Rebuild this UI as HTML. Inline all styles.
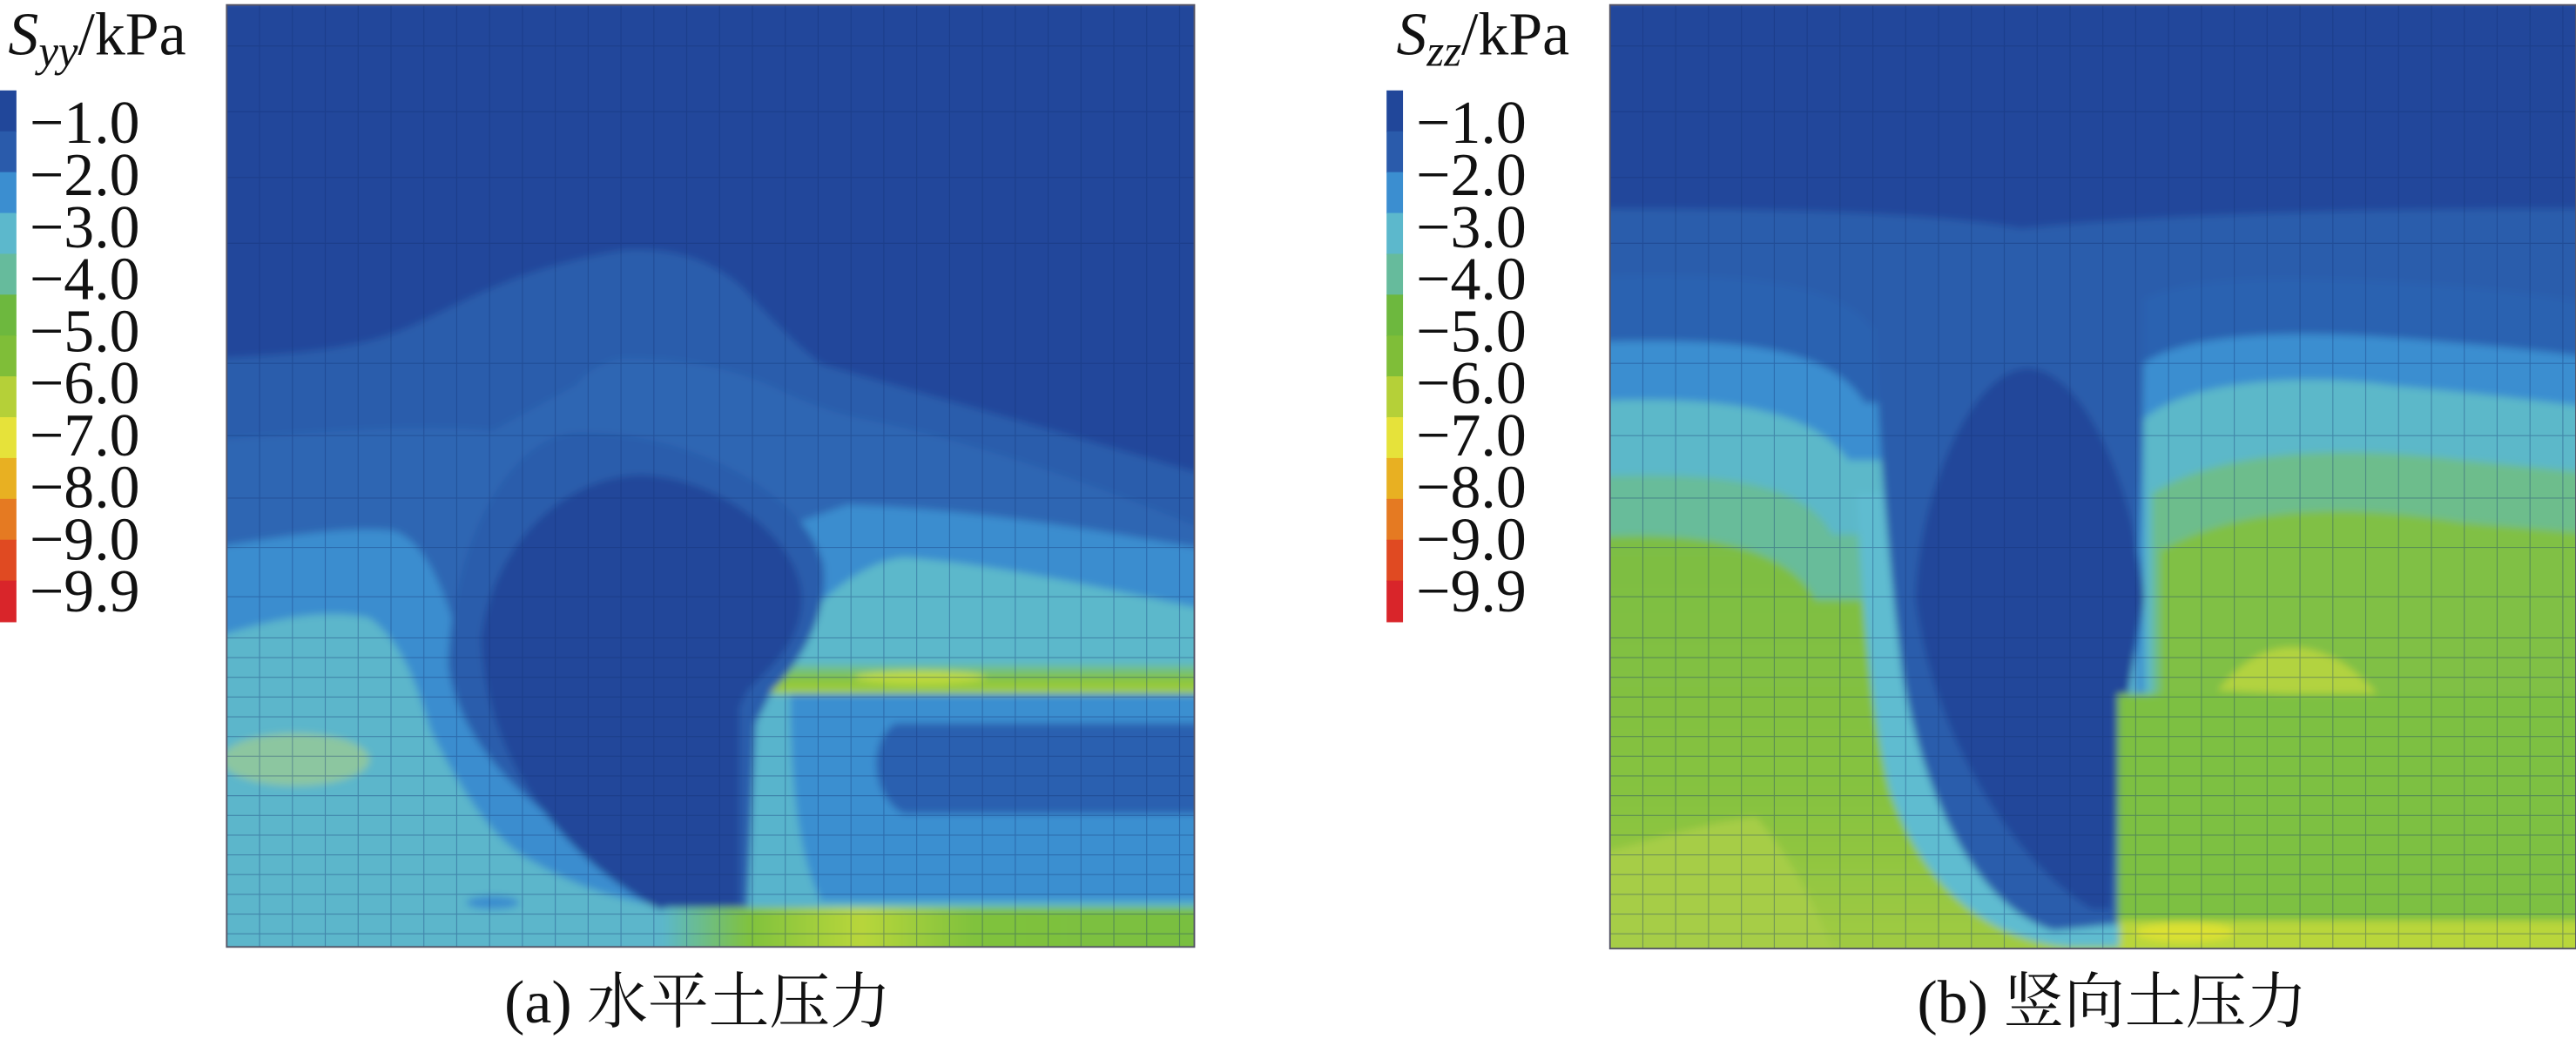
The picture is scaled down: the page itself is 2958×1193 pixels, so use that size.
<!DOCTYPE html>
<html><head><meta charset="utf-8"><style>
html,body{margin:0;padding:0;background:#fff;}
svg{display:block;}
text{font-family:"Liberation Serif","Noto Serif CJK SC",serif;fill:#111;}
</style></head><body>
<svg id="fig" width="2958" height="1193" viewBox="0 0 1568 632" preserveAspectRatio="none" xmlns="http://www.w3.org/2000/svg">
<defs>
<filter id="bl" x="-5%" y="-5%" width="110%" height="110%"><feGaussianBlur stdDeviation="2.2"/></filter>
<clipPath id="ca"><rect x="138" y="3" width="589" height="573"/></clipPath>
<clipPath id="cb"><rect x="980" y="3" width="588" height="574"/></clipPath>
<linearGradient id="gstrip" x1="0" x2="1" y1="0" y2="0">
<stop offset="0" stop-color="#5cb8c6"/><stop offset="0.15" stop-color="#80c23e"/><stop offset="0.35" stop-color="#b8d63a"/><stop offset="0.55" stop-color="#80c23e"/><stop offset="1" stop-color="#78bf40"/></linearGradient>
<linearGradient id="gband" x1="0" x2="0" y1="0" y2="1">
<stop offset="0" stop-color="#66bdb0"/><stop offset="0.5" stop-color="#86c440"/><stop offset="1" stop-color="#a8d03c"/></linearGradient>
<linearGradient id="gleft" x1="0" x2="0" y1="0" y2="1">
<stop offset="0" stop-color="#7dbe44"/><stop offset="0.6" stop-color="#86c240"/><stop offset="1" stop-color="#a4cc44"/></linearGradient>
</defs>

<!-- Panel A -->
<g clip-path="url(#ca)">
<g filter="url(#bl)">
<rect x="130" y="0" width="610" height="590" fill="#22479b"/>
<path d="M130,218 C170,216 200,214 230,206 C270,194 300,165 381,152 C420,150 440,165 451,174 C470,195 490,215 501,222 C550,236 600,250 727,287 L740,287 L740,590 L130,590Z" fill="#2a5dac"/>
<path d="M351,234 C360,222 375,218 381,218 C410,218 440,222 470,235 C490,245 510,252 526,255 C600,270 680,300 740,325 L740,590 L130,590 L130,268 C200,262 260,258 300,262 Z" fill="#2d66b3"/>
<path d="M130,333 C180,325 215,320 240,323 C260,330 270,360 280,390 L516,307 C600,310 680,325 740,335 L740,590 L130,590Z" fill="#3a8dcf"/>
<path d="M130,388 C170,375 200,370 225,376 C245,390 255,420 262,444 C285,490 305,515 326,525 C360,545 400,553 426,553 L426,590 L130,590Z" fill="#5cb6cb"/>
<ellipse cx="180" cy="462" rx="45" ry="16" fill="#8cc6a0"/>
<ellipse cx="300" cy="549" rx="16" ry="4" fill="#3a8dcf"/>
<path d="M480,390 C500,360 530,340 551,339 C620,345 680,360 740,372 L740,425 L466,425 Z" fill="#5cb8cb"/>
<rect x="466" y="404" width="280" height="18" fill="url(#gband)"/>
<ellipse cx="560" cy="412" rx="40" ry="4" fill="#d6e23a" opacity="0.7"/>
<rect x="452" y="422" width="290" height="132" fill="#58b4cc"/>
<path d="M481,422 L740,422 L740,548 L500,548 C485,520 481,470 481,422Z" fill="#3b8fd0"/>
<path d="M545,440 L740,440 L740,495 L550,495 C530,485 528,450 545,440Z" fill="#2c61b0"/>
<path d="M273,404 C275,330 310,265 351,263 C420,262 490,300 501,343 C505,370 490,400 470,420 L460,440 L455,553 L426,553 C360,520 280,470 273,404Z" fill="#2a5dac"/>
<path d="M293,388 C300,330 345,289 391,289 C440,291 488,330 488,364 C488,390 470,405 455,420 L450,430 L450,553 L401,553 C340,520 295,460 293,388Z" fill="#21469a"/>
<rect x="405" y="552" width="340" height="30" fill="url(#gstrip)"/>
</g>
<g id="grid-a" stroke="#123070" stroke-width="0.6" opacity="0.35"></g>
</g>
<rect x="138" y="3" width="589" height="573" fill="none" stroke="#556" stroke-width="1"/>

<!-- Panel B -->
<g clip-path="url(#cb)">
<g filter="url(#bl)">
<rect x="970" y="0" width="610" height="590" fill="#22479b"/>
<path d="M970,127 C1100,127 1180,130 1230,139 C1300,132 1400,127 1580,127 L1580,590 L970,590Z" fill="#2a5dac"/>
<path d="M970,168 C1060,165 1120,172 1140,200 L1300,200 L1300,590 L970,590Z" fill="#2c62b1"/>
<path d="M1294,190 C1310,172 1360,168 1420,170 C1500,172 1550,180 1580,185 L1580,590 L1294,590Z" fill="#2c62b1"/>
<path d="M970,208 C1060,205 1115,212 1135,245 L1300,245 L1300,590 L970,590Z" fill="#3a8ed0"/>
<path d="M1300,225 C1320,205 1380,200 1450,205 C1520,210 1560,215 1580,218 L1580,590 L1300,590Z" fill="#3a8ed0"/>
<path d="M970,244 C1050,240 1105,250 1125,280 L1300,280 L1300,590 L970,590Z" fill="#5cb8c9"/>
<path d="M1305,255 C1330,232 1400,226 1460,235 C1520,240 1560,246 1580,248 L1580,590 L1305,590Z" fill="#5cb8c9"/>
<path d="M970,290 C1050,286 1100,295 1115,325 L1300,325 L1300,590 L970,590Z" fill="#68bc9a"/>
<path d="M1310,300 C1350,275 1420,270 1500,280 L1580,288 L1580,590 L1310,590Z" fill="#6dbd8c"/>
<path d="M970,327 C1040,322 1090,335 1105,365 L1300,365 L1300,590 L970,590Z" fill="url(#gleft)"/>
<path d="M1315,335 C1360,310 1420,305 1500,318 L1580,325 L1580,590 L1315,590Z" fill="#80c044"/>
<path d="M970,520 C1010,510 1040,500 1069,497 C1090,520 1110,560 1120,590 L970,590Z" fill="#a6cd46"/>
<path d="M1350,420 C1370,395 1390,390 1410,396 C1430,402 1440,415 1450,425Z" fill="#b2d340"/>
<path d="M1130,300 C1134,380 1140,440 1150,480 C1170,540 1210,572 1260,576 L1300,576 L1300,300Z" fill="#5fbcd0"/>
<path d="M1140,168 L1305,168 C1305,300 1300,400 1289,430 L1289,562 L1250,566 C1200,550 1170,480 1158,410 C1148,330 1142,250 1140,168Z" fill="#2a5dac"/>
<path d="M1235,224 C1270,226 1300,300 1305,364 C1300,400 1290,430 1285,553 L1273,553 C1220,520 1175,440 1166,364 C1168,300 1200,224 1235,224Z" fill="#21469a"/>
<rect x="1289" y="422" width="300" height="140" fill="#7dc042"/>
<rect x="1290" y="560" width="300" height="20" fill="#b9d63a"/>
<ellipse cx="1330" cy="567" rx="30" ry="6" fill="#e4e432" opacity="0.8"/>
</g>
<g id="grid-b" stroke="#123070" stroke-width="0.6" opacity="0.35"></g>
</g>
<rect x="980" y="3" width="588" height="574" fill="none" stroke="#556" stroke-width="1"/>

<!-- Legends -->
<g id="legend-a"></g>
<g id="legend-b"></g>
<text x="5" y="33" font-size="37"><tspan font-style="italic">S</tspan><tspan font-style="italic" font-size="27" dy="7">yy</tspan><tspan dy="-7">/kPa</tspan></text>
<text x="850" y="33" font-size="37"><tspan font-style="italic">S</tspan><tspan font-style="italic" font-size="27" dy="7">zz</tspan><tspan dy="-7">/kPa</tspan></text>

<text x="307" y="622" font-size="37">(a)  水平土压力</text>
<text x="1167" y="622" font-size="37">(b)  竖向土压力</text>
</svg>
<script>
const levelLabels = ["−1.0","−2.0","−3.0","−4.0","−5.0","−6.0","−7.0","−8.0","−9.0","−9.9"];
const bandColors = ["#21479a","#2a5bab","#3b8ed0","#5cb8cc","#66bb9c","#6db83e","#7fbe38","#b5d038","#e6e23a","#e8b022","#e57a22","#e04a22","#d9252a"];
const NS="http://www.w3.org/2000/svg";
function mk(t,a){const e=document.createElementNS(NS,t);for(const k in a)e.setAttribute(k,a[k]);return e;}
function legend(id,x0,tx){
  const g=document.getElementById(id);
  const top=55,bot=378,h=(bot-top)/bandColors.length;
  bandColors.forEach((c,i)=>{
    const r=mk('rect',{x:x0,y:top+i*h,width:10,height:h+0.5,fill:c});
    
    
    g.appendChild(r);
  });
  const step=(360-75)/(levelLabels.length-1);
  levelLabels.forEach((s,i)=>{
    const t=mk('text',{x:tx,y:75+i*step+12,'font-size':37});
    t.textContent=s;
    
    
    g.appendChild(t);
  });
}
legend('legend-a',0,18);
legend('legend-b',844,862);
function grid(id,x0,x1,y0,y1){
  const g=document.getElementById(id);
  for(let x=x0+20;x<x1;x+=20){g.appendChild(mk('line',{x1:x,y1:y0,x2:x,y2:y1}));}
  const ys=[25,65,105,145,218,262,300,330,360];
  ys.forEach(y=>g.appendChild(mk('line',{x1:x0,y1:y0+y,x2:x1,y2:y0+y})));
  for(let y=y0+385;y<y1;y+=12){g.appendChild(mk('line',{x1:x0,y1:y,x2:x1,y2:y}));}
}
grid('grid-a',138,727,3,576);
grid('grid-b',980,1568,3,577);
</script>
</body></html>
